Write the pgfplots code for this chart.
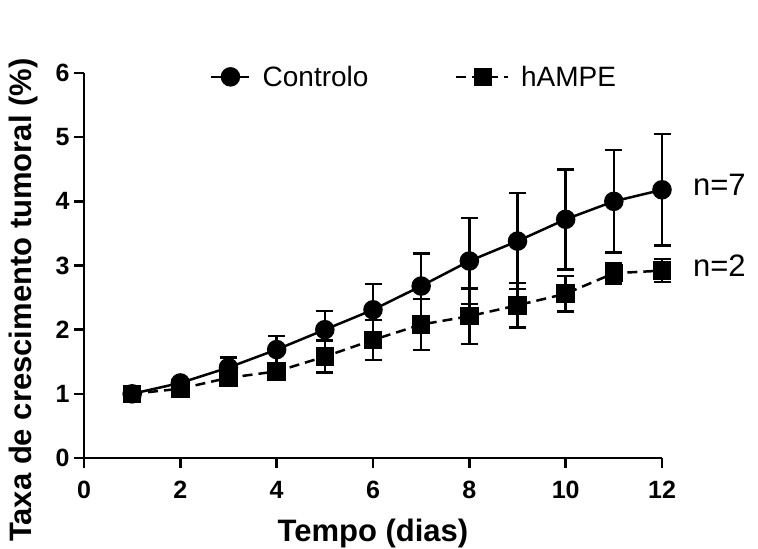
\documentclass[border=0pt]{standalone}
\usepackage{fontspec}
\setmainfont{Liberation Sans}
\usepackage{pgfplots}
\pgfplotsset{compat=1.18}
\usepackage{pgfplotstable}
\pgfplotsset{
  ctrlleg/.style={legend image code/.code={\draw[mark repeat=2,mark phase=2,##1] plot coordinates {(0bp,0bp) (19bp,0bp) (38bp,0bp)};}},
  hampeleg/.style={legend image code/.code={\draw[mark repeat=2,mark phase=2,##1] plot coordinates {(0bp,0bp) (27bp,0bp) (52bp,0bp)};}},
}
\pgfplotstableread{
x c cerr h herr
1 1.00 0.02 1.00 0.02
2 1.17 0.05 1.08 0.04
3 1.41 0.16 1.25 0.07
4 1.69 0.21 1.35 0.10
5 2.00 0.29 1.58 0.25
6 2.31 0.40 1.84 0.31
7 2.68 0.51 2.08 0.40
8 3.07 0.67 2.21 0.43
9 3.38 0.75 2.38 0.35
10 3.72 0.78 2.56 0.28
11 4.00 0.80 2.88 0.16
12 4.18 0.87 2.92 0.18
}\datatable
\begin{document}
\begin{tikzpicture}
\useasboundingbox (-84bp,-91bp) rectangle (674bp,458bp);
\begin{axis}[
  at={(0,0)}, anchor=south west,
  scale only axis, width=578bp, height=385bp,
  xmin=0, xmax=12, ymin=0, ymax=6,
  axis lines=left, axis line style={-, line width=2.5bp},
  every tick/.style={black, line width=2.5bp},
  tick align=outside, major tick length=10bp,
  xtick={0,2,...,12}, ytick={0,1,...,6},
  minor tick num=0,
  /pgf/number format/assume math mode=true,
  ticklabel style={font=\bfseries\fontsize{25bp}{28bp}\selectfont},
  xticklabel style={yshift=-10bp},
  yticklabel style={xshift=-1bp},
  xlabel={Tempo (dias)},
  ylabel={Taxa de crescimento tumoral (\%)},
  label style={font=\bfseries\fontsize{31bp}{34bp}\selectfont},
  xlabel style={at={(axis description cs:0.5,-0.195)}, anchor=center},
  ylabel style={at={(axis description cs:-0.104,0.41)}, anchor=center},
  clip=false,
  legend columns=2,
  legend style={draw=none, fill=none, inner sep=0pt, at={(axis description cs:0.218,0.99)}, anchor=west,
    font=\fontsize{28bp}{32bp}\selectfont,
    /tikz/every odd column/.append style={column sep=12bp},
    /tikz/every even column/.append style={column sep=86bp},
    nodes={inner sep=0pt, text depth=0pt}},
  legend cell align=left,
]
\addplot[black, line width=2.5bp, mark=*, mark size=8.5bp, mark options={solid}, ctrlleg,
  error bars/.cd, y dir=both, y explicit,
  error bar style={solid, line width=2.5bp},
  error mark options={rotate=90, mark size=8.5bp, line width=2.5bp}]
  table[x=x, y=c, y error=cerr] {\datatable};
\addlegendentry{Controlo}
\addplot[black, line width=2.5bp, dash pattern=on 10bp off 6bp, mark=square*, mark size=8bp, mark options={solid}, hampeleg,
  error bars/.cd, y dir=both, y explicit,
  error bar style={solid, line width=2.5bp},
  error mark options={rotate=90, mark size=8.5bp, line width=2.5bp, solid}]
  table[x=x, y=h, y error=herr] {\datatable};
\addlegendentry{hAMPE}
\node[anchor=west, font=\fontsize{31bp}{34bp}\selectfont, inner sep=0pt] at (axis cs:12.64,4.25) {n=7};
\node[anchor=west, font=\fontsize{31bp}{34bp}\selectfont, inner sep=0pt] at (axis cs:12.64,2.99) {n=2};
\end{axis}
\end{tikzpicture}
\end{document}
